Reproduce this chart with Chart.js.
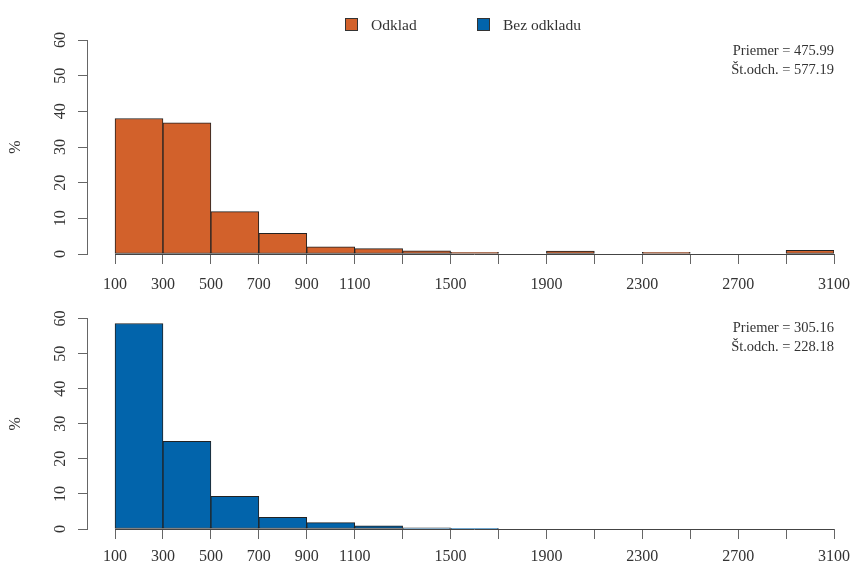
<!DOCTYPE html>
<html>
<head>
<meta charset="utf-8">
<script src="https://cdn.jsdelivr.net/npm/chart.js@4.4.1/dist/chart.umd.min.js"></script>
<style>
  html, body { margin: 0; padding: 0; background: #fff; }
  body { width: 864px; height: 568px; position: relative; overflow: hidden; font-family: "Liberation Serif", serif; color: #333; }
  #wrap1 { position: absolute; left: 0; top: 0; width: 864px; height: 300px; }
  #wrap2 { position: absolute; left: 0; top: 300px; width: 864px; height: 268px; }
  .leg { position: absolute; top: 16px; font-size: 15.5px; line-height: 18px; white-space: nowrap; }
  .leg i { display: inline-block; width: 11px; height: 11px; border: 1px solid #333; vertical-align: -1px; margin-right: 13px; }
  .stats { position: absolute; right: 30px; text-align: right; font-size: 14.5px; line-height: 19px; white-space: nowrap; }
</style>
</head>
<body>
<div id="wrap1"><canvas id="c1" width="864" height="300"></canvas></div>
<div id="wrap2"><canvas id="c2" width="864" height="268"></canvas></div>
<div class="leg" id="leg1" style="left:345px"></div>
<div class="leg" id="leg2" style="left:477px"></div>
<div class="stats" id="st1" style="top:41px"></div>
<div class="stats" id="st2" style="top:318px"></div>
<script>
// ---- data ----
const binEdges = [100, 300, 500, 700, 900, 1100, 1300, 1500, 1700, 1900, 2100, 2300, 2500, 2700, 2900, 3100];
const odklad = [38.0, 36.8, 11.9, 5.8, 2.0, 1.5, 0.9, 0.5, 0, 0.8, 0, 0.5, 0, 0, 1.0];
const bezOdkladu = [58.6, 25.0, 9.3, 3.3, 1.8, 0.9, 0.3, 0.2, 0, 0, 0, 0, 0, 0, 0];
const xTickLabels = [100, 300, 500, 700, 900, 1100, 1500, 1900, 2300, 2700, 3100];
const yTickValues = [0, 10, 20, 30, 40, 50, 60];
const seriesNames = ['Odklad', 'Bez odkladu'];
const statsOdklad = ['Priemer = 475.99', 'Št.odch. = 577.19'];
const statsBez = ['Priemer = 305.16', 'Št.odch. = 228.18'];
const yTitle = '%';

const colors = ['#D2612B', '#0264AB'];
const FONT = 'Liberation Serif';

// HTML legend + stats
document.getElementById('leg1').innerHTML = '<i style="background:' + colors[0] + '"></i>' + seriesNames[0];
document.getElementById('leg2').innerHTML = '<i style="background:' + colors[1] + '"></i>' + seriesNames[1];
document.getElementById('st1').innerHTML = statsOdklad.join('<br>');
document.getElementById('st2').innerHTML = statsBez.join('<br>');

const baseline = {
  id: 'baseline',
  afterDatasetsDraw(chart) {
    const { ctx, scales: { x, y } } = chart;
    const py = Math.round(y.getPixelForValue(0)) + 0.5;
    ctx.save();
    ctx.strokeStyle = '#444';
    ctx.lineWidth = 1;
    ctx.beginPath();
    ctx.moveTo(x.getPixelForValue(binEdges[0]), py);
    ctx.lineTo(x.getPixelForValue(binEdges[binEdges.length - 1]), py);
    ctx.stroke();
    ctx.restore();
  }
};

function makeChart(id, values, color, label, padTop, xAxisHeight, xPad) {
  const data = values.map((v, i) => ({ x: (binEdges[i] + binEdges[i + 1]) / 2, y: v }));
  return new Chart(document.getElementById(id), {
    type: 'bar',
    data: {
      datasets: [{
        label: label,
        data: data,
        backgroundColor: color,
        borderColor: '#222',
        borderWidth: 1,
        borderSkipped: false,
        barPercentage: 1,
        categoryPercentage: 1
      }]
    },
    options: {
      responsive: false,
      animation: false,
      layout: { padding: { top: padTop, right: 30, left: 0, bottom: 0 } },
      plugins: { legend: { display: false }, tooltip: { enabled: false } },
      scales: {
        x: {
          type: 'linear',
          offset: false,
          min: -17,
          max: 3100,
          afterBuildTicks: s => { s.ticks = binEdges.map(v => ({ value: v })); },
          afterFit: s => { s.height = xAxisHeight; },
          ticks: {
            autoSkip: false, maxRotation: 0, minRotation: 0, padding: xPad,
            color: '#333', font: { family: FONT, size: 16 },
            callback: v => xTickLabels.includes(v) ? String(v) : ''
          },
          grid: { offset: false, drawOnChartArea: false, drawTicks: true, tickLength: 10, color: '#666' },
          border: { display: false }
        },
        y: {
          min: 0, max: 60,
          afterBuildTicks: s => { s.ticks = yTickValues.map(v => ({ value: v })); },
          afterFit: s => { s.width = 87; },
          ticks: {
            minRotation: 90, maxRotation: 90, crossAlign: 'center', padding: 9,
            color: '#333', font: { family: FONT, size: 16 }
          },
          grid: { drawOnChartArea: false, drawTicks: true, tickLength: 9, color: '#666' },
          border: { display: true, color: '#666' },
          title: { display: true, text: yTitle, color: '#333', font: { family: FONT, size: 16 }, padding: { top: 6, bottom: 0 } }
        }
      }
    },
    plugins: [baseline]
  });
}

makeChart('c1', odklad, colors[0], seriesNames[0], 40, 46, 11);
makeChart('c2', bezOdkladu, colors[1], seriesNames[1], 15, 39, 8);
</script>
</body>
</html>
